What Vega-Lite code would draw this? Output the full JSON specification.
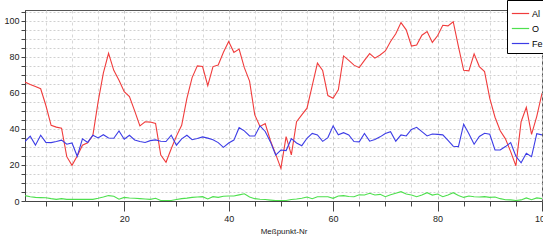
{
  "$schema": "https://vega.github.io/schema/vega-lite/v6.json",
  "width": 517,
  "height": 191,
  "autosize": {"type": "none"},
  "padding": {"left": 25, "top": 10, "right": 1, "bottom": 41},
  "background": "white",
  "config": {
    "font": "Liberation Sans Narrow, Liberation Sans, Arial, sans-serif",
    "view": {"stroke": "#555", "strokeWidth": 1},
    "axis": {
      "labelFont": "Liberation Sans Narrow, Liberation Sans, Arial, sans-serif",
      "titleFont": "Liberation Sans Narrow, Liberation Sans, Arial, sans-serif",
      "labelFontSize": 9,
      "titleFontSize": 8,
      "titleFontWeight": "normal",
      "labelColor": "#222",
      "titleColor": "#222",
      "domainColor": "#444",
      "tickColor": "#444"
    }
  },
  "data": {
    "values": [
      {"n":1,"Al":66,"O":3,"Fe":33},
      {"n":2,"Al":64.7,"O":2.4,"Fe":36},
      {"n":3,"Al":63.5,"O":2,"Fe":31},
      {"n":4,"Al":62.3,"O":1.9,"Fe":36.5},
      {"n":5,"Al":53,"O":1.8,"Fe":32.5},
      {"n":6,"Al":42,"O":1.3,"Fe":32.4},
      {"n":7,"Al":41,"O":0.9,"Fe":33},
      {"n":8,"Al":40.4,"O":1.3,"Fe":33.8},
      {"n":9,"Al":24.6,"O":0.9,"Fe":31.5},
      {"n":10,"Al":19.8,"O":0.9,"Fe":32.2},
      {"n":11,"Al":25,"O":0.9,"Fe":24.8},
      {"n":12,"Al":31,"O":0.9,"Fe":34.5},
      {"n":13,"Al":32.3,"O":0.9,"Fe":32.5},
      {"n":14,"Al":36.5,"O":0.9,"Fe":36.5},
      {"n":15,"Al":55,"O":1.5,"Fe":35},
      {"n":16,"Al":71,"O":2.2,"Fe":36.8},
      {"n":17,"Al":82,"O":3,"Fe":35},
      {"n":18,"Al":72.5,"O":2.6,"Fe":34.8},
      {"n":19,"Al":67,"O":1,"Fe":38.9},
      {"n":20,"Al":60.7,"O":2,"Fe":34.3},
      {"n":21,"Al":58,"O":1.7,"Fe":36.5},
      {"n":22,"Al":50,"O":1.5,"Fe":33.9},
      {"n":23,"Al":41.7,"O":1.3,"Fe":33},
      {"n":24,"Al":44,"O":1.1,"Fe":32.5},
      {"n":25,"Al":43.8,"O":0.9,"Fe":33.5},
      {"n":26,"Al":43,"O":1.5,"Fe":33.9},
      {"n":27,"Al":25.5,"O":0.3,"Fe":33.2},
      {"n":28,"Al":21.5,"O":0.3,"Fe":33},
      {"n":29,"Al":29,"O":0.3,"Fe":36.5},
      {"n":30,"Al":36,"O":0.8,"Fe":31},
      {"n":31,"Al":42,"O":1.3,"Fe":34.5},
      {"n":32,"Al":57,"O":1.6,"Fe":36.5},
      {"n":33,"Al":68.5,"O":2,"Fe":34},
      {"n":34,"Al":75,"O":2.2,"Fe":34.7},
      {"n":35,"Al":74.6,"O":2.4,"Fe":35.6},
      {"n":36,"Al":64,"O":1.1,"Fe":34.9},
      {"n":37,"Al":74.6,"O":2.4,"Fe":34},
      {"n":38,"Al":75.5,"O":2,"Fe":32.4},
      {"n":39,"Al":82.5,"O":2.6,"Fe":29.8},
      {"n":40,"Al":88.5,"O":2.8,"Fe":32.2},
      {"n":41,"Al":82.5,"O":2.8,"Fe":33.8},
      {"n":42,"Al":84.3,"O":3.4,"Fe":40.7},
      {"n":43,"Al":74,"O":4,"Fe":38.9},
      {"n":44,"Al":66.5,"O":2.2,"Fe":36.1},
      {"n":45,"Al":47.8,"O":1.3,"Fe":36.1},
      {"n":46,"Al":41.3,"O":1,"Fe":41.7},
      {"n":47,"Al":43,"O":0.8,"Fe":38.6},
      {"n":48,"Al":33.5,"O":0.5,"Fe":32.8},
      {"n":49,"Al":26,"O":0.2,"Fe":25.5},
      {"n":50,"Al":18.1,"O":0.2,"Fe":28.3},
      {"n":51,"Al":35.7,"O":0.3,"Fe":28},
      {"n":52,"Al":25.6,"O":0.8,"Fe":34.6},
      {"n":53,"Al":44,"O":1.1,"Fe":32.2},
      {"n":54,"Al":47.8,"O":1.5,"Fe":30.7},
      {"n":55,"Al":51.5,"O":2.2,"Fe":34.8},
      {"n":56,"Al":64,"O":1.3,"Fe":37.5},
      {"n":57,"Al":76.5,"O":2.4,"Fe":36.7},
      {"n":58,"Al":72.4,"O":2.4,"Fe":33.1},
      {"n":59,"Al":58.5,"O":2.4,"Fe":35.2},
      {"n":60,"Al":57,"O":1.5,"Fe":41.7},
      {"n":61,"Al":61.7,"O":2.8,"Fe":36.7},
      {"n":62,"Al":80.5,"O":3,"Fe":37.9},
      {"n":63,"Al":78,"O":2.5,"Fe":36.7},
      {"n":64,"Al":75.4,"O":2.4,"Fe":33},
      {"n":65,"Al":74,"O":3.5,"Fe":32.8},
      {"n":66,"Al":78,"O":3.3,"Fe":37.5},
      {"n":67,"Al":81.8,"O":4.3,"Fe":33.2},
      {"n":68,"Al":79.3,"O":3.3,"Fe":34.1},
      {"n":69,"Al":81,"O":3.7,"Fe":35.6},
      {"n":70,"Al":83.3,"O":2.4,"Fe":37.5},
      {"n":71,"Al":88.5,"O":3.5,"Fe":38.5},
      {"n":72,"Al":92.8,"O":4.3,"Fe":33.2},
      {"n":73,"Al":99,"O":5.2,"Fe":36.7},
      {"n":74,"Al":95,"O":3.9,"Fe":36.1},
      {"n":75,"Al":86,"O":3.3,"Fe":39.7},
      {"n":76,"Al":86.6,"O":2.4,"Fe":40.9},
      {"n":77,"Al":92,"O":3.3,"Fe":38.5},
      {"n":78,"Al":94,"O":4.6,"Fe":36.1},
      {"n":79,"Al":88,"O":3.3,"Fe":37.2},
      {"n":80,"Al":91.7,"O":3.9,"Fe":37},
      {"n":81,"Al":97.5,"O":2.4,"Fe":36.7},
      {"n":82,"Al":97.2,"O":3.3,"Fe":33.6},
      {"n":83,"Al":99.5,"O":4.6,"Fe":30.4},
      {"n":84,"Al":85.7,"O":3,"Fe":30.2},
      {"n":85,"Al":72.5,"O":2,"Fe":42.6},
      {"n":86,"Al":72.2,"O":2.8,"Fe":37.3},
      {"n":87,"Al":81.7,"O":2.4,"Fe":31.5},
      {"n":88,"Al":74.6,"O":2.2,"Fe":35.8},
      {"n":89,"Al":71.8,"O":2.4,"Fe":37.6},
      {"n":90,"Al":57,"O":2,"Fe":37},
      {"n":91,"Al":46.5,"O":2.2,"Fe":28.3},
      {"n":92,"Al":39,"O":1.3,"Fe":28.3},
      {"n":93,"Al":34.5,"O":0.7,"Fe":30.2},
      {"n":94,"Al":27.4,"O":0.6,"Fe":32.4},
      {"n":95,"Al":19.5,"O":0.3,"Fe":24.8},
      {"n":96,"Al":44,"O":0.6,"Fe":21.2},
      {"n":97,"Al":52,"O":1.7,"Fe":26.5},
      {"n":98,"Al":37,"O":0.7,"Fe":24.6},
      {"n":99,"Al":47,"O":1.7,"Fe":37.4},
      {"n":100,"Al":59.8,"O":1.3,"Fe":36.7}
    ]
  },
  "transform": [{"fold": ["Al", "O", "Fe"], "as": ["el", "v"]}],
  "mark": {"type": "line", "strokeWidth": 1.1, "clip": true},
  "encoding": {
    "x": {
      "field": "n",
      "type": "quantitative",
      "scale": {"domain": [1, 100], "nice": false, "zero": false},
      "axis": {
        "title": "Meßpunkt-Nr",
        "values": [5,10,15,20,25,30,35,40,45,50,55,60,65,70,75,80,85,90,95,100],
        "labelExpr": "datum.value % 20 === 0 ? datum.label : ''",
        "tickSize": {"condition": {"test": "datum.value % 20 === 0", "value": 10}, "value": 5},
        "labelPadding": 3,
        "labelFlush": false,
        "labelOverlap": false,
        "titlePadding": 4,
        "grid": true,
        "gridColor": {"condition": {"test": "datum.value % 20 === 0", "value": "#c4c4c4"}, "value": "#d8d8d8"},
        "gridDash": [3, 3]
      }
    },
    "y": {
      "field": "v",
      "type": "quantitative",
      "scale": {"domain": [0, 106], "nice": false},
      "axis": {
        "title": null,
        "values": [0,5,10,15,20,25,30,35,40,45,50,55,60,65,70,75,80,85,90,95,100,105],
        "labelExpr": "datum.value % 20 === 0 ? datum.label : ''",
        "tickSize": 4,
        "labelPadding": 2,
        "labelOverlap": false,
        "grid": true,
        "gridColor": "#d0d0d0",
        "gridDash": [2, 2]
      }
    },
    "color": {
      "field": "el",
      "type": "nominal",
      "scale": {"domain": ["Al", "O", "Fe"], "range": ["#f03c3c", "#4ee04e", "#3c3ce6"]},
      "legend": {
        "title": null,
        "orient": "none",
        "legendX": 482,
        "legendY": -10,
        "strokeColor": "#000",
        "fillColor": "#fff",
        "padding": 4,
        "symbolType": "stroke",
        "symbolSize": 300,
        "symbolStrokeWidth": 1.2,
        "labelFontSize": 9,
        "labelOffset": 2,
        "rowPadding": 0
      }
    }
  }
}
